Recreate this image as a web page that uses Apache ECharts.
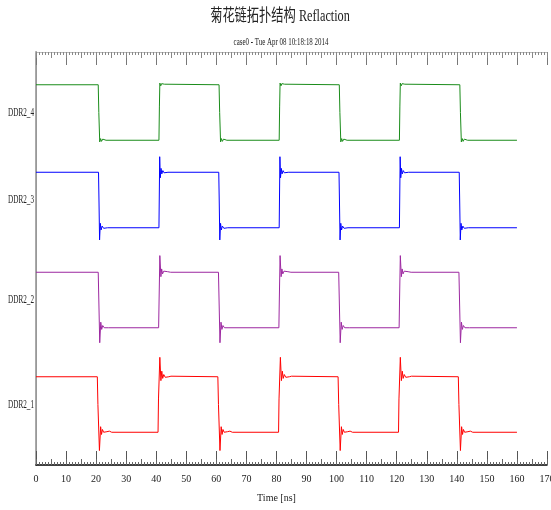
<!DOCTYPE html>
<html>
<head>
<meta charset="utf-8">
<script src="https://cdn.jsdelivr.net/npm/echarts@6/dist/echarts.min.js"></script>
<style>
  html, body { margin: 0; padding: 0; background: #fff; }
  #chart { width: 551px; height: 510px; }
</style>
</head>
<body>
<div id="chart"></div>
<script>
// signals, top to bottom
const signalNames = ['DDR2_4', 'DDR2_3', 'DDR2_2', 'DDR2_1'];

// start time of each edge (ns); the first edge falls, then they alternate
const edgesDDR2_4 = [20.7, 40.9, 60.9, 80.9, 100.9, 120.9, 141.0];
const edgesDDR2_3 = [20.8, 40.9, 60.8, 80.9, 100.8, 120.9, 140.8];
const edgesDDR2_2 = [20.7, 40.8, 60.7, 80.8, 100.7, 120.8, 140.7];
const edgesDDR2_1 = [20.4, 40.6, 60.5, 80.7, 100.5, 120.6, 140.5];
const endTime = 160;

// ringing: [ns after edge, level] with low = 0, high = 1
const riseDDR2_4 = [[0.15, 0.6], [0.3, 1.03], [0.6, 0.98], [0.9, 1.02], [1.3, 0.99], [1.8, 1.01], [2.4, 1.0]];
const fallDDR2_4 = [[0.2, 0.5], [0.5, -0.03], [0.8, 0.03], [1.1, -0.02], [1.5, 0.02], [2.0, -0.01], [2.6, 0.0]];
const riseDDR2_3 = [[0.1, 0.5], [0.25, 1.28], [0.45, 0.9], [0.7, 1.07], [0.95, 0.97], [1.3, 1.03], [1.7, 0.99], [2.2, 1.01], [3.0, 1.0]];
const fallDDR2_3 = [[0.15, 0.5], [0.35, -0.22], [0.6, 0.08], [0.85, -0.04], [1.2, 0.03], [1.7, -0.01], [2.3, 0.01], [3.0, 0.0]];
const riseDDR2_2 = [[0.15, 0.5], [0.4, 1.3], [0.75, 0.92], [1.0, 1.06], [1.3, 0.97], [1.7, 1.02], [2.3, 0.99], [3.0, 1.01], [4.0, 1.0]];
const fallDDR2_2 = [[0.2, 0.5], [0.5, -0.27], [0.85, 0.1], [1.15, -0.03], [1.5, 0.04], [2.0, 0.0], [2.6, 0.02], [3.5, 0.0]];
const riseDDR2_1 = [[0.15, 0.6], [0.6, 1.35], [0.95, 0.93], [1.25, 1.1], [1.55, 0.97], [1.9, 1.04], [2.4, 0.99], [3.0, 1.02], [3.6, 1.0], [4.3, 1.01], [4.8, 1.0]];
const fallDDR2_1 = [[0.2, 0.5], [0.7, -0.33], [1.1, 0.1], [1.4, -0.04], [1.7, 0.05], [2.1, 0.0], [2.6, 0.03], [3.2, 0.01], [4.0, 0.02], [4.8, 0.0]];

const edges = { DDR2_4: edgesDDR2_4, DDR2_3: edgesDDR2_3, DDR2_2: edgesDDR2_2, DDR2_1: edgesDDR2_1 };
const rises = { DDR2_4: riseDDR2_4, DDR2_3: riseDDR2_3, DDR2_2: riseDDR2_2, DDR2_1: riseDDR2_1 };
const falls = { DDR2_4: fallDDR2_4, DDR2_3: fallDDR2_3, DDR2_2: fallDDR2_2, DDR2_1: fallDDR2_1 };

const titleText = '菊花链拓扑结构 Reflaction';
const subtitleText = 'case0 - Tue Apr 08 10:18:18 2014';

const colors = ['#1a8c1a', '#0000ff', '#9c27a0', '#ff0000'];
// top of each trace's grid (px), 111px tall for the range -0.5..1.5
const traceTops = [57, 144.5, 244.5, 349];
const traceHeight = 111;

const serif = "'Liberation Serif', 'DejaVu Serif', serif";

function buildTrace(name) {
    const pts = [[0, 1]];
    let level = 1;
    edges[name].forEach(function (t0) {
        const shape = level === 1 ? falls[name] : rises[name];
        pts.push([t0, level]);
        shape.forEach(function (p) {
            pts.push([+(t0 + p[0]).toFixed(2), p[1]]);
        });
        level = 1 - level;
    });
    pts.push([endTime, level]);
    return pts;
}

const chart = echarts.init(document.getElementById('chart'));

const grids = [{ left: 36, right: 4, top: 52, bottom: 45, outerBoundsMode: 'none', containLabel: false }];
const xAxes = [
    {
        gridIndex: 0, type: 'value', position: 'bottom', min: 0, max: 170, interval: 10,
        axisLine: { lineStyle: { color: '#000', width: 1.5 } },
        axisTick: { inside: true, length: 14, lineStyle: { color: '#555' } },
        minorTick: { show: true, splitNumber: 10, length: 3, lineStyle: { color: '#666' } },
        axisLabel: { fontFamily: serif, fontSize: 10, color: '#222', margin: 9 },
        splitLine: { show: false },
        name: 'Time [ns]', nameLocation: 'middle', nameGap: 28,
        nameTextStyle: { fontFamily: serif, fontSize: 10, color: '#222', padding: [0, 30, 0, 0] }
    },
    {
        gridIndex: 0, type: 'value', position: 'bottom', min: 0, max: 170, interval: 5,
        axisLine: { show: false },
        axisTick: { inside: true, length: 6, lineStyle: { color: '#666' } },
        axisLabel: { show: false }, splitLine: { show: false }
    },
    {
        gridIndex: 0, type: 'value', position: 'top', min: 0, max: 170, interval: 10,
        axisLine: { lineStyle: { color: '#bbb', width: 1 } },
        axisTick: { inside: true, length: 13, lineStyle: { color: '#777' } },
        minorTick: { show: true, splitNumber: 10, length: 3, lineStyle: { color: '#888' } },
        axisLabel: { show: false }, splitLine: { show: false }
    },
    {
        gridIndex: 0, type: 'value', position: 'top', min: 0, max: 170, interval: 5,
        axisLine: { show: false },
        axisTick: { inside: true, length: 6, lineStyle: { color: '#888' } },
        axisLabel: { show: false }, splitLine: { show: false }
    }
];
const yAxes = [
    {
        gridIndex: 0, type: 'value', position: 'left', min: 0, max: 1,
        axisLine: { show: true, lineStyle: { color: '#aaa', width: 2 } },
        axisTick: { show: false }, axisLabel: { show: false }, splitLine: { show: false }
    },
    {
        gridIndex: 0, type: 'value', position: 'right', min: 0, max: 1,
        axisLine: { show: true, lineStyle: { color: '#999', width: 1 } },
        axisTick: { show: false }, axisLabel: { show: false }, splitLine: { show: false }
    }
];
const series = [];
// title lines and signal names are narrow in the original, so they are drawn squeezed
const graphics = [
    {
        type: 'text', x: 280, y: 17, scaleX: 0.72,
        style: {
            text: titleText, fill: '#222', align: 'center', verticalAlign: 'middle',
            font: "17px 'Liberation Serif', 'Noto Sans CJK SC'"
        }
    },
    {
        type: 'text', x: 281, y: 42, scaleX: 0.63,
        style: {
            text: subtitleText, fill: '#222', align: 'center', verticalAlign: 'middle',
            font: "11px 'Liberation Serif'"
        }
    }
];

signalNames.forEach(function (name, i) {
    const g = i + 1;
    grids.push({ left: 36, right: 4, top: traceTops[i], height: traceHeight, outerBoundsMode: 'none', containLabel: false });
    xAxes.push({ gridIndex: g, type: 'value', min: 0, max: 170, show: false });
    yAxes.push({ gridIndex: g, type: 'value', min: -0.5, max: 1.5, show: false });
    series.push({
        name: name,
        type: 'line',
        xAxisIndex: 4 + i,
        yAxisIndex: 2 + i,
        data: buildTrace(name),
        showSymbol: false,
        symbol: 'none',
        lineStyle: { color: colors[i], width: 1 },
        itemStyle: { color: colors[i] }
    });
    graphics.push({
        type: 'text', x: 34, y: traceTops[i] + traceHeight / 2, scaleX: 0.6,
        style: {
            text: name, fill: '#222', align: 'right', verticalAlign: 'middle',
            font: "12px 'Liberation Serif'"
        }
    });
});

chart.setOption({
    animation: false,
    graphic: graphics,
    grid: grids,
    xAxis: xAxes,
    yAxis: yAxes,
    series: series
});
</script>
</body>
</html>
